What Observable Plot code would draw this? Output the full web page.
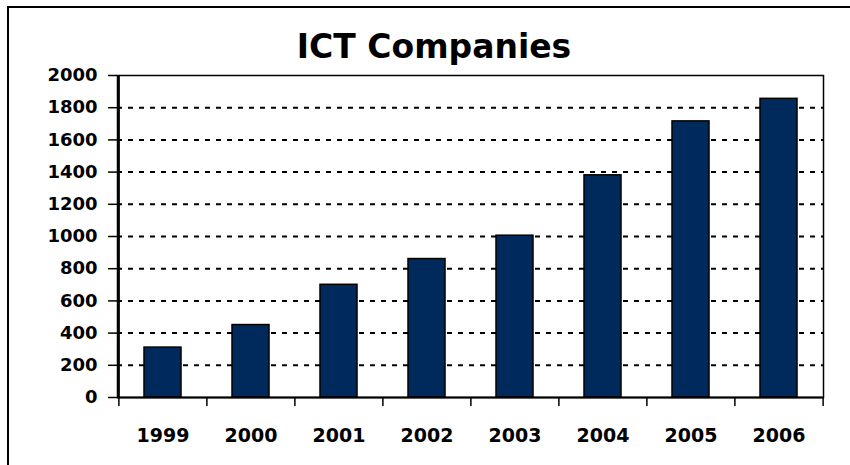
<!DOCTYPE html>
<html>
<head>
<meta charset="utf-8">
<script src="https://cdn.jsdelivr.net/npm/d3@7"></script>
<script src="https://cdn.jsdelivr.net/npm/@observablehq/plot@0.6"></script>
<style>
  body { margin: 0; background: #fff; }
  #wrap { position: relative; width: 850px; height: 465px; overflow: hidden; background: #fff; }
  #border { position: absolute; left: 7px; top: 6px; width: 900px; height: 520px; border: 2px solid #000; box-sizing: border-box; }
  #titlebox { position: absolute; left: 0; top: 0; width: 850px; height: 62px; }
  #title { position: absolute; left: 0; top: 30px; width: 868px; text-align: center;
           font-family: "DejaVu Sans", sans-serif; font-weight: bold; font-size: 33px; line-height: 33px; color: #000; }
  #chart { position: absolute; left: 0; top: 62px; }
</style>
</head>
<body>
<div id="wrap">
  <div id="border"></div>
  <div id="titlebox"><div id="title">ICT Companies</div></div>
  <div id="chart"></div>
</div>
<script>
// Data
const years = ["1999", "2000", "2001", "2002", "2003", "2004", "2005", "2006"];
const companies = [310, 450, 700, 860, 1005, 1380, 1715, 1855];
const yTicks = [0, 200, 400, 600, 800, 1000, 1200, 1400, 1600, 1800, 2000];
const gridTicks = [200, 400, 600, 800, 1000, 1200, 1400, 1600, 1800];

const data = years.map((y, i) => ({year: y, value: companies[i]}));

const W = 850, H = 403;
const mL = 117, mR = 27, mT = 13, mB = 68;
const step = (W - mL - mR) / years.length;
const pad = 0.58;

const chart = Plot.plot({
  width: W,
  height: H,
  marginLeft: mL,
  marginRight: mR,
  marginTop: mT,
  marginBottom: mB,
  style: {fontFamily: "DejaVu Sans, sans-serif", fontWeight: "bold", color: "#000", background: "transparent"},
  x: {domain: years, paddingInner: pad, paddingOuter: pad / 2, axis: null},
  y: {domain: [0, 2000], axis: null},
  marks: [
    Plot.ruleY(gridTicks, {stroke: "#000", strokeWidth: 2, strokeDasharray: "5,6"}),
    Plot.barY(data, {x: "year", y: "value", fill: "#002a5c", stroke: "#000", strokeWidth: 1.5}),
    Plot.frame({stroke: "#000", strokeWidth: 1.5}),
    Plot.ruleY([0], {stroke: "#000", strokeWidth: 2}),
    Plot.ruleX([years[0]], {x: d => d, dx: -step / 2, stroke: "#000", strokeWidth: 2}),
    Plot.ruleX(years, {x: d => d, dx: -step / 2, y1: 0, y2: 0, insetBottom: -9, stroke: "#000", strokeWidth: 1.5}),
    Plot.ruleX([years[years.length - 1]], {x: d => d, dx: step / 2, y1: 0, y2: 0, insetBottom: -9, stroke: "#000", strokeWidth: 1.5}),
    Plot.axisY(yTicks, {tickSize: 9, tickPadding: 11, fontSize: 18, strokeWidth: 1.5, label: null, tickFormat: d => String(d)}),
    Plot.axisX(years, {tickSize: 0, tickPadding: 31, fontSize: 19, label: null})
  ]
});
document.getElementById("chart").appendChild(chart);
</script>
</body>
</html>
